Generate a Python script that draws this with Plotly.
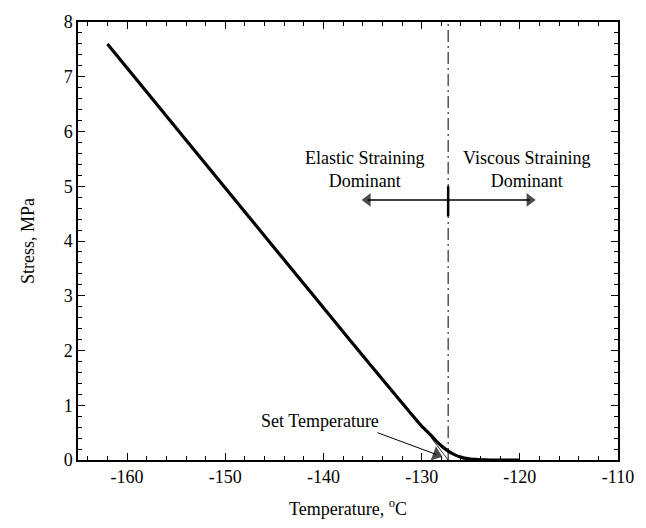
import plotly.graph_objects as go

# Data
temp = [-162, -150, -140, -135, -130, -129.5, -129, -128.5, -128, -127.5, -127, -126.5,
        -126, -125.5, -125, -124.5, -124, -123, -122, -120]
stress = [7.6, 4.97, 2.78, 1.69, 0.62, 0.53, 0.44, 0.345, 0.26, 0.19, 0.13, 0.085,
          0.052, 0.03, 0.018, 0.01, 0.005, 0.0, 0.0, 0.0]

tangent_t = [-129.0, -127.3]
tangent_s = [0.40, 0.0]

set_temp = -127.3
arrow_y = 4.75
left_tip = -135.5
right_tip = -119.0
set_arrow_t = [-134.5, -128.5]
set_arrow_s = [0.5, 0.1]

x_ticks = [-160, -150, -140, -130, -120, -110]
x_ticktext = ["-160", "-150", "-140", "-130", "-120", "-110"]
y_ticks = [0, 1, 2, 3, 4, 5, 6, 7, 8]

FONT = "Liberation Serif"
FS = 18

fig = go.Figure()
fig.add_trace(go.Scatter(x=temp, y=stress, mode="lines",
                         line=dict(color="black", width=3.2, shape="spline", smoothing=0.6),
                         showlegend=False, hoverinfo="skip"))
fig.add_trace(go.Scatter(x=tangent_t, y=tangent_s, mode="lines",
                         line=dict(color="black", width=0.8),
                         showlegend=False, hoverinfo="skip"))
fig.add_trace(go.Scatter(x=[set_temp, set_temp], y=[0, 8], mode="lines",
                         line=dict(color="black", width=1, dash="12px,4px,2px,4px"),
                         showlegend=False, hoverinfo="skip"))
# vertical tick on arrows
fig.add_trace(go.Scatter(x=[set_temp, set_temp], y=[4.45, 5.0], mode="lines",
                         line=dict(color="black", width=2.5),
                         showlegend=False, hoverinfo="skip"))
# horizontal arrows
for tip in (left_tip, right_tip):
    fig.add_trace(go.Scatter(x=[set_temp, tip], y=[arrow_y, arrow_y], mode="lines+markers",
                             line=dict(color="black", width=1.5),
                             marker=dict(symbol=["circle", "triangle-up"], size=[0, 12],
                                         angleref="previous", color="black",
                                         line=dict(width=0)),
                             showlegend=False, hoverinfo="skip"))
# set temperature arrow
fig.add_trace(go.Scatter(x=set_arrow_t, y=set_arrow_s, mode="lines+markers",
                         line=dict(color="black", width=1),
                         marker=dict(symbol=["circle", "triangle-up"], size=[0, 13],
                                     angleref="previous", color="black",
                                     line=dict(width=0)),
                         showlegend=False, hoverinfo="skip"))

annots = [
    dict(x=-135.8, y=5.3, text="Elastic Straining<br>Dominant", showarrow=False,
         font=dict(size=FS, family=FONT, color="black"), align="center"),
    dict(x=-119.3, y=5.3, text="Viscous Straining<br>Dominant", showarrow=False,
         font=dict(size=FS, family=FONT, color="black"), align="center"),
    dict(x=-140.4, y=0.72, text="Set Temperature", showarrow=False,
         font=dict(size=FS, family=FONT, color="black")),
]

fig.update_layout(
    width=646, height=528,
    margin=dict(l=78, r=18, t=17, b=64),
    paper_bgcolor="white", plot_bgcolor="white",
    font=dict(family=FONT, size=FS, color="black"),
    annotations=annots,
    xaxis=dict(range=[-165, -110], tickvals=x_ticks, ticktext=x_ticktext, ticks="inside",
               ticklen=7, tickwidth=1,
               tickcolor="black", showline=True, linecolor="black", linewidth=1.5, mirror="ticks",
               showgrid=False, zeroline=False,
               minor=dict(ticks="inside", ticklen=4, dtick=2, tickcolor="black", showgrid=False),
               title=dict(text="Temperature, <sup>o</sup>C", standoff=16,
                          font=dict(size=FS, family=FONT)),
               tickfont=dict(size=FS, family=FONT)),
    yaxis=dict(range=[0, 8], tickvals=y_ticks, ticks="inside", ticklen=7, tickwidth=1,
               tickcolor="black", showline=True, linecolor="black", linewidth=1.5, mirror="ticks",
               showgrid=False, zeroline=False,
               minor=dict(ticks="inside", ticklen=4, dtick=0.2, tickcolor="black", showgrid=False),
               title=dict(text="Stress, MPa", standoff=24, font=dict(size=FS, family=FONT)),
               tickfont=dict(size=FS, family=FONT)),
)

fig.write_html("out.html")
